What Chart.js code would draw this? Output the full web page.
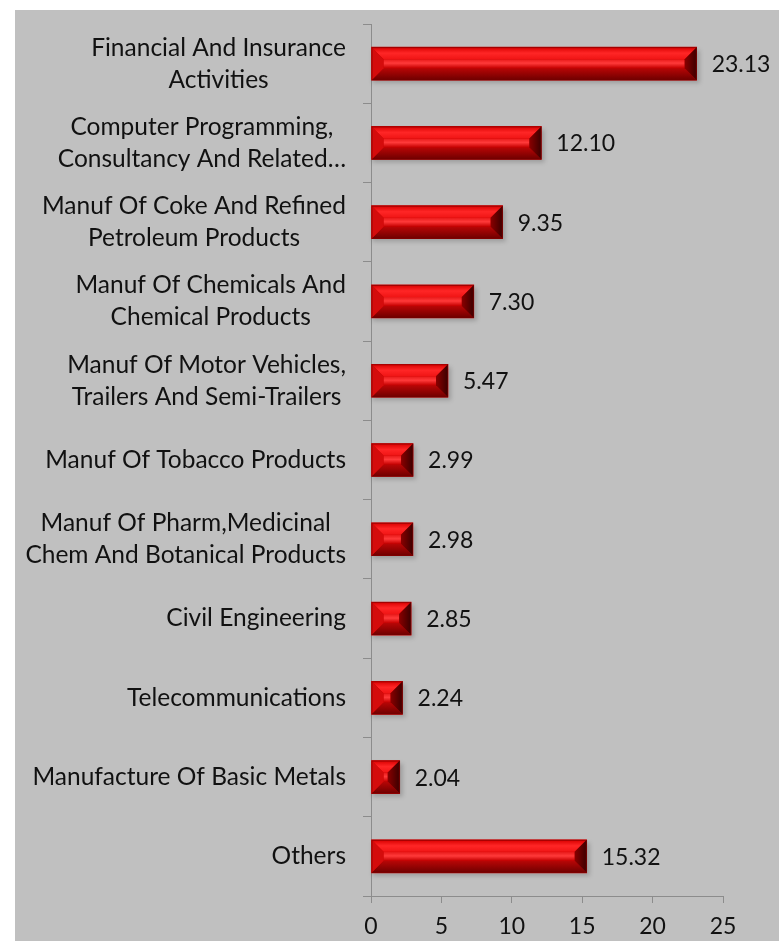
<!DOCTYPE html>
<html>
<head>
<meta charset="utf-8">
<script src="https://cdn.jsdelivr.net/npm/chart.js@4"></script>
<style>
    html, body { margin: 0; padding: 0; background: #ffffff; }
    #caixa { position: absolute; left: 15px; top: 10px; width: 764px; height: 931px; background: #c0c0c0; }
</style>
</head>
<body>
<div id="caixa"><canvas id="grafico"></canvas></div>
<script>
// === Dados do gráfico ===
const setores = [
    ["Financial And Insurance", "Activities"],
    ["Computer Programming,", "Consultancy And Related…"],
    ["Manuf Of Coke And Refined", "Petroleum Products"],
    ["Manuf Of Chemicals And", "Chemical Products"],
    ["Manuf Of Motor Vehicles,", "Trailers And Semi-Trailers"],
    ["Manuf Of Tobacco Products"],
    ["Manuf Of Pharm,Medicinal", "Chem And Botanical Products"],
    ["Civil Engineering"],
    ["Telecommunications"],
    ["Manufacture Of Basic Metals"],
    ["Others"]
];
const valores = [23.13, 12.10, 9.35, 7.30, 5.47, 2.99, 2.98, 2.85, 2.24, 2.04, 15.32];
const eixoX = { min: 0, max: 25, passo: 5 };

const fonte = "Lato, 'Open Sans', sans-serif";
const corTexto = "#111111";
const corEixo = "#8c8c8c";

// --- Sombra por baixo das barras ---
const sombraBarras = {
    id: "sombraBarras",
    beforeDatasetsDraw(chart) {
        const ctx = chart.ctx;
        ctx.save();
        chart.getDatasetMeta(0).data.forEach(bar => {
            const h = bar.height;
            ctx.fillStyle = "rgba(0,0,0,0.18)";
            ctx.filter = "blur(2px)";
            ctx.fillRect(bar.base + 1, bar.y - h / 2 + 3, bar.x - bar.base + 2, h);
        });
        ctx.restore();
    }
};

// --- Efeito de relevo (bisel) sobre as barras ---
const biselBarras = {
    id: "biselBarras",
    afterDatasetsDraw(chart) {
        const ctx = chart.ctx;
        ctx.save();
        chart.getDatasetMeta(0).data.forEach(bar => {
            const l = bar.base, r = bar.x;
            const t = bar.y - bar.height / 2, b = bar.y + bar.height / 2;
            const bv = Math.min(12, (r - l) / 2, (b - t) / 2);

            const poly = (pts, fill) => {
                ctx.beginPath();
                ctx.moveTo(pts[0][0], pts[0][1]);
                for (let i = 1; i < pts.length; i++) ctx.lineTo(pts[i][0], pts[i][1]);
                ctx.closePath();
                ctx.fillStyle = fill;
                ctx.fill();
            };

            // face central
            const gFace = ctx.createLinearGradient(0, t + bv, 0, b - bv);
            gFace.addColorStop(0, "#e81818");
            gFace.addColorStop(0.45, "#ff3a3a");
            gFace.addColorStop(1, "#c40000");
            poly([[l + bv, t + bv], [r - bv, t + bv], [r - bv, b - bv], [l + bv, b - bv]], gFace);

            // topo
            const gTopo = ctx.createLinearGradient(0, t, 0, t + bv);
            gTopo.addColorStop(0, "#d80000");
            gTopo.addColorStop(0.5, "#ff2626");
            gTopo.addColorStop(1, "#f01515");
            poly([[l, t], [r, t], [r - bv, t + bv], [l + bv, t + bv]], gTopo);

            // base
            const gBase = ctx.createLinearGradient(0, b - bv, 0, b);
            gBase.addColorStop(0, "#b80606");
            gBase.addColorStop(1, "#6e0000");
            poly([[l, b], [r, b], [r - bv, b - bv], [l + bv, b - bv]], gBase);

            // lado esquerdo
            poly([[l, t], [l + bv, t + bv], [l + bv, b - bv], [l, b]], "#d40c0c");

            // lado direito
            const gDir = ctx.createLinearGradient(r - bv, 0, r, 0);
            gDir.addColorStop(0, "#8a0000");
            gDir.addColorStop(1, "#3a0000");
            poly([[r, t], [r - bv, t + bv], [r - bv, b - bv], [r, b]], gDir);

            // contorno fino
            ctx.strokeStyle = "rgba(120,0,0,0.6)";
            ctx.lineWidth = 1;
            ctx.strokeRect(l + 0.5, t + 0.5, r - l - 1, b - t - 1);
        });
        ctx.restore();
    }
};

// --- Rótulos das categorias (linhas centradas, bloco alinhado à direita) ---
const rotulosCategorias = {
    id: "rotulosCategorias",
    afterDraw(chart) {
        const ctx = chart.ctx;
        const eixoY = chart.scales.y;
        const direita = chart.chartArea.left - 25;
        const altLinha = 32;
        ctx.save();
        ctx.font = "24.5px " + fonte;
        ctx.fillStyle = corTexto;
        ctx.textAlign = "center";
        ctx.textBaseline = "middle";
        setores.forEach((linhas, i) => {
            const yc = eixoY.getPixelForValue(i);
            const larg = Math.max(...linhas.map(s => ctx.measureText(s).width));
            const xc = direita - larg / 2;
            linhas.forEach((s, j) => {
                const y = yc + (j - (linhas.length - 1) / 2) * altLinha;
                ctx.fillText(s, xc, y);
            });
        });
        ctx.restore();
    }
};

// --- Valores à direita das barras ---
const rotulosValores = {
    id: "rotulosValores",
    afterDatasetsDraw(chart) {
        const ctx = chart.ctx;
        ctx.save();
        ctx.font = "23px " + fonte;
        ctx.fillStyle = corTexto;
        ctx.textAlign = "left";
        ctx.textBaseline = "middle";
        chart.getDatasetMeta(0).data.forEach((bar, i) => {
            ctx.fillText(valores[i].toFixed(2), bar.x + 15, bar.y + 1);
        });
        ctx.restore();
    }
};

const grafico = new Chart(document.getElementById("grafico"), {
    type: "bar",
    data: {
        labels: setores,
        datasets: [{
            data: valores,
            backgroundColor: "#c80000",
            borderWidth: 0,
            barThickness: 33
        }]
    },
    options: {
        indexAxis: "y",
        responsive: true,
        maintainAspectRatio: false,
        animation: false,
        layout: { padding: { top: 14, right: 56, left: 0, bottom: 0 } },
        plugins: {
            legend: { display: false },
            tooltip: { enabled: false }
        },
        scales: {
            x: {
                min: eixoX.min,
                max: eixoX.max,
                ticks: {
                    stepSize: eixoX.passo,
                    color: corTexto,
                    font: { family: fonte, size: 23 },
                    padding: 10
                },
                grid: { drawOnChartArea: false, tickLength: 7, color: corEixo },
                border: { color: corEixo, width: 1 },
                afterFit(scale) { scale.height = 45; }
            },
            y: {
                ticks: { display: false },
                grid: { drawOnChartArea: false, tickLength: 8, color: corEixo, offset: true },
                border: { color: corEixo, width: 1 },
                afterFit(scale) { scale.width = 356; }
            }
        }
    },
    plugins: [sombraBarras, biselBarras, rotulosValores, rotulosCategorias]
});
</script>
</body>
</html>
